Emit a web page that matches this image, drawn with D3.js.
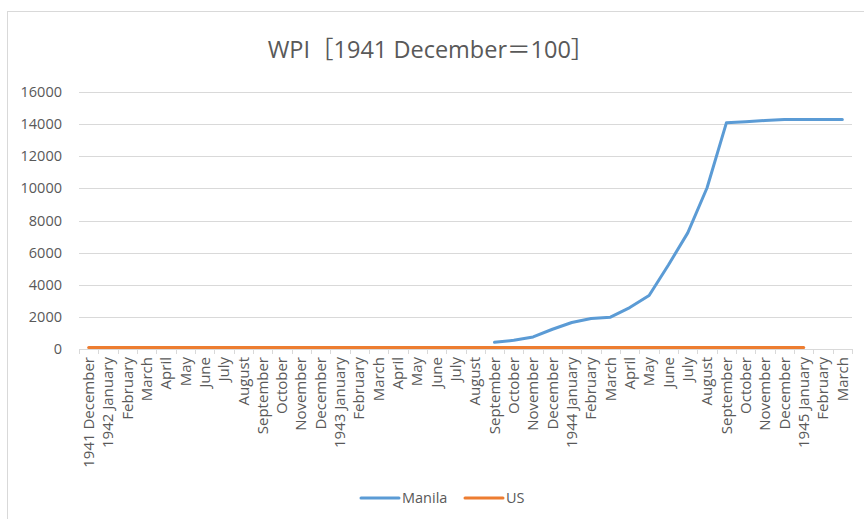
<!DOCTYPE html>
<html>
<head>
<meta charset="utf-8">
<script src="https://cdn.jsdelivr.net/npm/d3@7"></script>
<style>
  body { margin: 0; background: #fff; }
  text { font-family: "Open Sans", "Noto Sans CJK JP", sans-serif; fill: #595959; }
</style>
</head>
<body>
<svg></svg>
<script>
// months from 1941 December to 1945 March
var months = ['1941 December', '1942 January', 'February', 'March', 'April', 'May', 'June', 'July',
  'August', 'September', 'October', 'November', 'December', '1943 January', 'February', 'March',
  'April', 'May', 'June', 'July', 'August', 'September', 'October', 'November', 'December',
  '1944 January', 'February', 'March', 'April', 'May', 'June', 'July', 'August', 'September',
  'October', 'November', 'December', '1945 January', 'February', 'March'];

// Manila series starts in 1943 September
var manila = [null, null, null, null, null, null, null, null, null, null, null, null, null,
  null, null, null, null, null, null, null, null,
  420, 540, 750, 1230, 1650, 1900, 1980, 2580, 3330, 5230, 7230, 10040,
  14080, 14150, 14230, 14290, 14290, 14290, 14290];

// US series ends in 1945 January
var us = [100, 100, 100, 100, 100, 100, 100, 100, 100, 100, 100, 100, 100,
  100, 100, 100, 100, 100, 100, 100, 100, 100, 100, 100, 100,
  100, 100, 100, 100, 100, 100, 100, 100, 100, 100, 100, 100, 100, null, null];

var yTicks = [0, 2000, 4000, 6000, 8000, 10000, 12000, 14000, 16000];

var series = [
  { name: 'Manila', values: manila, color: '#5B9BD5' },
  { name: 'US', values: us, color: '#ED7D31' }
];

var width = 864;
var height = 519;
var svg = d3.select('svg')
              .attr('width', width)
              .attr('height', height);

// chart frame
svg.append('rect')
    .attr('x', 7.5)
    .attr('y', 11.5)
    .attr('width', 900)
    .attr('height', 600)
    .attr('fill', '#fff')
    .attr('stroke', '#d9d9d9');

svg.append('text')
    .attr('x', 431)
    .attr('y', 58)
    .attr('text-anchor', 'middle')
    .style('font-size', '23.5px')
    .text('WPI［1941 December＝100］');

var x = d3.scaleBand()
            .domain(d3.range(months.length))
            .range([79, 852]);

var y = d3.scaleLinear()
            .domain([0, 16000])
            .range([349, 92]);

// gridlines
svg.append('g')
  .selectAll('line')
  .data(yTicks)
  .enter()
  .append('line')
    .attr('x1', 79)
    .attr('x2', 852)
    .attr('y1', d => Math.round(y(d)) + 0.5)
    .attr('y2', d => Math.round(y(d)) + 0.5)
    .attr('stroke', '#d9d9d9');

svg.append('g')
  .selectAll('text')
  .data(yTicks)
  .enter()
  .append('text')
    .attr('x', 62)
    .attr('y', d => y(d))
    .attr('dy', '0.35em')
    .attr('text-anchor', 'end')
    .style('font-size', '14.5px')
    .text(d => d);

// category ticks
var bounds = d3.range(months.length + 1).map(i => 79 + i * x.step());
svg.append('g')
  .selectAll('line')
  .data(bounds)
  .enter()
  .append('line')
    .attr('x1', d => Math.round(d) + 0.5)
    .attr('x2', d => Math.round(d) + 0.5)
    .attr('y1', 349)
    .attr('y2', 354)
    .attr('stroke', '#d9d9d9');

svg.append('g')
  .selectAll('text')
  .data(months)
  .enter()
  .append('text')
    .attr('transform', (d, i) => `translate(${x(i) + x.bandwidth() / 2}, 357) rotate(-90)`)
    .attr('dy', '0.35em')
    .attr('text-anchor', 'end')
    .style('font-size', '15px')
    .text(d => d);

var line = d3.line()
  .defined(d => d != null)
  .x((d, i) => x(i) + x.bandwidth() / 2)
  .y(d => y(d));

svg.append('g')
  .selectAll('path')
  .data(series)
  .enter()
  .append('path')
    .attr('d', d => line(d.values))
    .attr('fill', 'none')
    .attr('stroke', d => d.color)
    .attr('stroke-width', 3)
    .attr('stroke-linejoin', 'round')
    .attr('stroke-linecap', 'round');

// legend
var legend = svg.append('g')
  .selectAll('g')
  .data(series)
  .enter()
  .append('g')
    .attr('transform', (d, i) => `translate(${[361, 465][i]}, 498)`);

legend.append('line')
    .attr('x1', 0)
    .attr('x2', 38)
    .attr('stroke', d => d.color)
    .attr('stroke-width', 3)
    .attr('stroke-linecap', 'round');

legend.append('text')
    .attr('x', 41)
    .attr('dy', '0.35em')
    .style('font-size', '14.5px')
    .text(d => d.name);
</script>
</body>
</html>
